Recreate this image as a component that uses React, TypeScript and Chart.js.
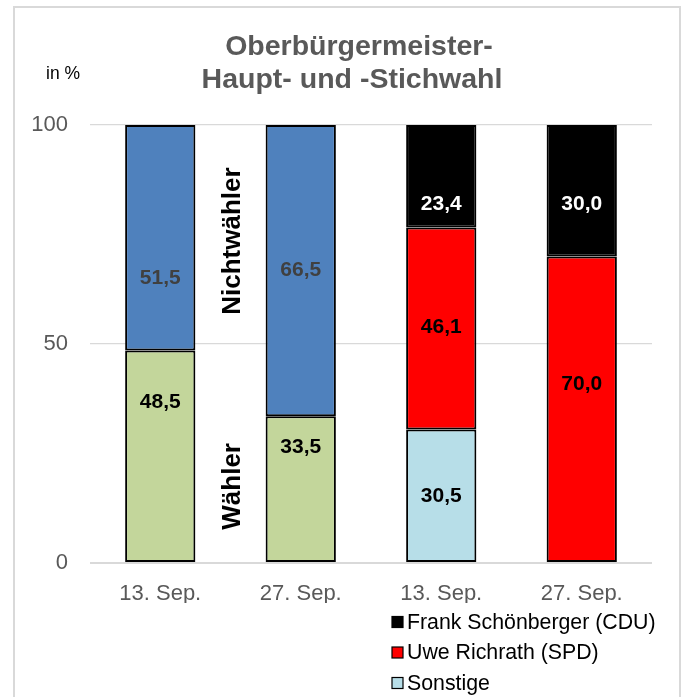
import React, { useEffect, useRef } from "react";
import { Chart, registerables } from "chart.js";

Chart.register(...registerables);

// ---------- data ----------
const categories = ["13. Sep.", "27. Sep.", "13. Sep.", "27. Sep."];
const waehler = [48.5, 33.5, null, null];
const nichtwaehler = [51.5, 66.5, null, null];
const sonstige = [null, null, 30.5, null];
const richrath = [null, null, 46.1, 70.0];
const schoenberger = [null, null, 23.4, 30.0];
const yTickValues = [0, 50, 100];
const titleLines = ["Oberbürgermeister-", "Haupt- und -Stichwahl"];
const unitLabel = "in %";
const groupLabels = ["Nichtwähler", "Wähler"];
const legendOrder = ["Frank Schönberger (CDU)", "Uwe Richrath (SPD)", "Sonstige"];

// ---------- styles ----------
const FONT = "'Liberation Sans', Arial, Helvetica, sans-serif";
const GRAY = "#595959";
const W = 687;
const H = 697;

// group label anchor (in axis units) – placement only
const groupLabelAnchors = [
  { x: 0.5, y: 73.5 },
  { x: 0.5, y: 17.5 },
];

const fmt = (v: number) => v.toFixed(1).replace(".", ",");

const framePlugin = {
  id: "frame",
  beforeDraw(chart: any) {
    const ctx = chart.ctx;
    ctx.save();
    ctx.fillStyle = "#ffffff";
    ctx.fillRect(0, 0, W, H);
    ctx.strokeStyle = "#d9d9d9";
    ctx.lineWidth = 2;
    ctx.strokeRect(14, 7, 666, H + 10);
    ctx.restore();
  },
};

const decorPlugin = {
  id: "decor",
  afterDraw(chart: any) {
    const ctx = chart.ctx;
    const xs = chart.scales.x;
    const ys = chart.scales.y;
    ctx.save();
    // title
    ctx.fillStyle = GRAY;
    ctx.font = `bold 28.5px ${FONT}`;
    ctx.textAlign = "center";
    ctx.textBaseline = "middle";
    ctx.fillText(titleLines[0], 359, 47);
    ctx.fillText(titleLines[1], 352, 80);
    // unit label
    ctx.fillStyle = "#000";
    ctx.font = `17.5px ${FONT}`;
    ctx.textAlign = "left";
    ctx.fillText(unitLabel, 46, 74);

    // data labels
    chart.data.datasets.forEach((ds: any, di: number) => {
      const meta = chart.getDatasetMeta(di);
      meta.data.forEach((el: any, i: number) => {
        const v = ds.data[i];
        if (v == null) return;
        const cy = (el.y + el.base) / 2 + (ds.labelShift ? ds.labelShift[i] : 0);
        ctx.fillStyle = ds.labelColor;
        ctx.font = `bold 21px ${FONT}`;
        ctx.textAlign = "center";
        ctx.textBaseline = "middle";
        ctx.fillText(fmt(v), el.x, cy);
      });
    });

    // rotated group labels
    groupLabels.forEach((t, i) => {
      const a = groupLabelAnchors[i];
      const px = xs.getPixelForValue(a.x) + 2;
      const py = ys.getPixelForValue(a.y);
      ctx.save();
      ctx.translate(px, py);
      ctx.rotate(-Math.PI / 2);
      ctx.fillStyle = "#000";
      ctx.font = `bold 26px ${FONT}`;
      ctx.textAlign = "center";
      ctx.textBaseline = "middle";
      ctx.fillText(t, 0, 0);
      ctx.restore();
    });

    // legend
    legendOrder.forEach((name, i) => {
      const ds = chart.data.datasets.find((d: any) => d.label === name);
      const y = 622 + i * 30.5;
      ctx.fillStyle = ds.backgroundColor;
      ctx.fillRect(392, y - 5.5, 11, 11);
      ctx.strokeStyle = "#000";
      ctx.lineWidth = 1.2;
      ctx.strokeRect(392, y - 5.5, 11, 11);
      ctx.fillStyle = "#000";
      ctx.font = `21.3px ${FONT}`;
      ctx.textAlign = "left";
      ctx.textBaseline = "middle";
      ctx.fillText(name, 407, y + 1);
    });
    ctx.restore();
  },
};

export default function App() {
  const ref = useRef<HTMLCanvasElement | null>(null);
  useEffect(() => {
    if (!ref.current) return;
    const barCommon = {
      borderColor: "#000000",
      borderWidth: 2,
      borderSkipped: false,
      categoryPercentage: 1,
      barPercentage: 0.5,
    };
    const chart = new Chart(ref.current, {
      type: "bar",
      data: {
        labels: categories,
        datasets: [
          { label: "Wähler", data: waehler, backgroundColor: "#c3d69b", labelColor: "#000", labelShift: [-54, -42, 0, 0], ...barCommon },
          { label: "Nichtwähler", data: nichtwaehler, backgroundColor: "#4f81bd", labelColor: "#404040", labelShift: [40, 0, 0, 0], ...barCommon },
          { label: "Sonstige", data: sonstige, backgroundColor: "#b7dee8", labelColor: "#000", labelShift: [0, 0, 0, 0], ...barCommon },
          { label: "Uwe Richrath (SPD)", data: richrath, backgroundColor: "#ff0000", labelColor: "#000", labelShift: [0, 0, -1, -25], ...barCommon },
          { label: "Frank Schönberger (CDU)", data: schoenberger, backgroundColor: "#000000", labelColor: "#fff", labelShift: [0, 0, 28, 14], ...barCommon },
        ] as any,
      },
      options: {
        responsive: false,
        animation: false,
        devicePixelRatio: 1,
        layout: { padding: { top: 125, right: 35, bottom: 94, left: 0 } },
        plugins: {
          legend: { display: false },
          title: { display: false },
          tooltip: { enabled: false },
        },
        scales: {
          x: {
            stacked: true,
            grid: { display: false },
            border: { display: false },
            ticks: { color: GRAY, font: { family: FONT, size: 22 }, padding: 10, maxRotation: 0 },
            afterFit: (s: any) => { s.height = 40; },
          },
          y: {
            stacked: true,
            min: 0,
            max: 100,
            afterBuildTicks: (s: any) => { s.ticks = yTickValues.map((v) => ({ value: v })); },
            grid: {
              color: "#d9d9d9",
              lineWidth: (c: any) => (c.tick && c.tick.value === 0 ? 2 : 1.2),
              drawTicks: false,
            },
            border: { display: false },
            ticks: { color: GRAY, font: { family: FONT, size: 22 }, padding: 22 },
            afterFit: (s: any) => { s.width = 90; },
          },
        },
      } as any,
      plugins: [framePlugin, decorPlugin],
    });
    return () => chart.destroy();
  }, []);
  return (
    <div style={{ position: "fixed", left: 0, top: 0, width: W, height: H, background: "#fff" }}>
      <canvas ref={ref} width={W} height={H} style={{ display: "block", width: W, height: H }} />
    </div>
  );
}
